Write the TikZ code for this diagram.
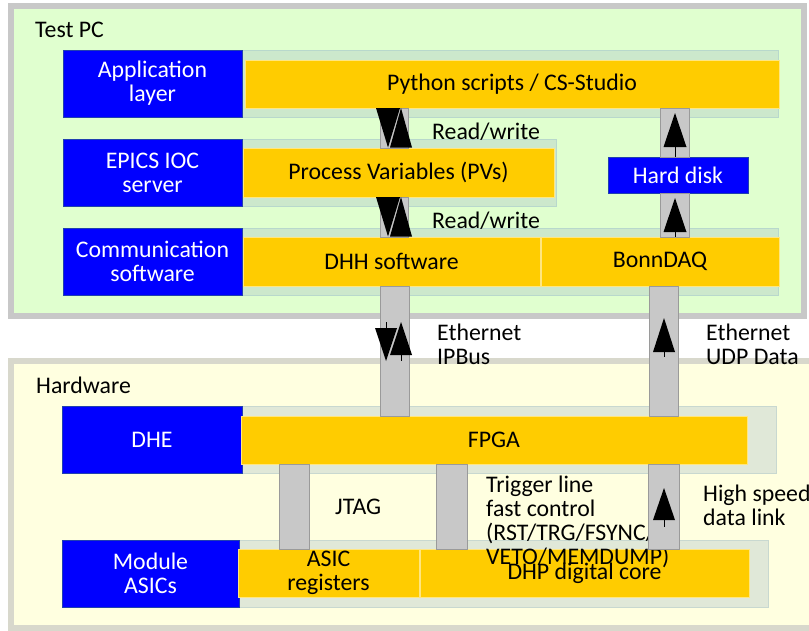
\documentclass[tikz,border=0pt]{standalone}
\usepackage{fontspec}
\setmainfont{Carlito}
\definecolor{pcfill}{HTML}{E0FFCF}
\definecolor{pcedge}{HTML}{C8C8C8}
\definecolor{hwfill}{HTML}{FFFFE0}
\definecolor{hwedge}{HTML}{D8D8CC}
\definecolor{pcrow}{HTML}{CCE8CC}
\definecolor{pcrowedge}{HTML}{B8D8CC}
\definecolor{hwrow}{HTML}{E0E8D8}
\definecolor{hwrowedge}{HTML}{C8D8D0}
\definecolor{layerblue}{HTML}{0000FF}
\definecolor{layeredge}{HTML}{2040B0}
\definecolor{swyellow}{HTML}{FFCC00}
\definecolor{swedge}{HTML}{FFE680}
\definecolor{pipefill}{HTML}{C8C8C8}
\definecolor{pipeedge}{HTML}{9A9A9A}
\tikzset{
  x=1pt, y=-1pt,
  txt/.style={font=\fontsize{23.8}{24}\selectfont, align=center, inner sep=0pt},
  lbl/.style={txt, align=left, anchor=base west},
  rowbg/.style={fill=pcrow, draw=pcrowedge, line width=0.8pt},
  hwrowbg/.style={fill=hwrow, draw=hwrowedge, line width=0.8pt},
  layer/.style={fill=layerblue, draw=layeredge, line width=0.6pt, text=white},
  sw/.style={fill=swyellow, draw=swedge, line width=0.8pt},
  pipe/.style={fill=pipefill, draw=pipeedge, line width=0.8pt},
  stem/.style={line width=0.8pt},
}
% vertical arrow inside a pipe: x, half width of head, tip y, head base y, stem end y
\newcommand\pipearrow[5]{%
  \draw[stem] (#1,#4) -- (#1,#5);
  \fill (#1-#2,#4) -- (#1+#2,#4) -- (#1,#3) -- cycle;}
\begin{document}
\begin{tikzpicture}
\clip (0,0) rectangle (809,630);
\fill[white] (0,0) rectangle (809,630);

% ---- panels
\draw[pcedge, fill=pcfill, line width=6pt] (11,6) rectangle (804,316);
\draw[hwedge, fill=hwfill, line width=6pt] (11,361) rectangle (830,628);
\node[lbl] (testpc) at (35,37.5) {Test PC};
\node[lbl] (hwlabel) at (36,393) {Hardware};

% ---- row backgrounds
\path[rowbg] (63,50) rectangle (778,117);
\path[rowbg] (63,139) rectangle (556,206);
\path[rowbg] (63,228) rectangle (778,295);
\path[hwrowbg] (62,406) rectangle (776,473);
\path[hwrowbg] (62,540) rectangle (768,607);

% ---- layer names
\path[layer] (63,50) rectangle (242,117) node[pos=0.5, txt, text=white] (app) {Application\\layer};
\path[layer] (63,139) rectangle (242,206) node[pos=0.5, txt, text=white] (epics) {EPICS IOC\\server};
\path[layer] (63,228) rectangle (242,295) node[pos=0.5, txt, text=white] (comm) {Communication\\software};
\path[layer] (62,406) rectangle (242,473) node[pos=0.5, txt, text=white] (dhe) {DHE};
\path[layer] (62,540) rectangle (239,607) node[pos=0.5, txt, text=white] (asics) {Module\\ASICs};

% ---- software / firmware blocks
\path[sw] (245,60) rectangle (779,108) node[pos=0.5, txt] (python) {Python scripts / CS-Studio};
\path[sw] (243,148) rectangle (554,197) node[pos=0.5, txt] (pvs) {Process Variables (PVs)};
\path[sw] (243,237) rectangle (540,286) node[pos=0.5, txt] (dhh) {DHH software};
\path[sw] (541,237) rectangle (779,286) node[pos=0.5, txt] (bonn) {BonnDAQ};
\path[layer] (608,157) rectangle (748,193) node[pos=0.5, txt, text=white] (disk) {Hard disk};
\path[sw] (241,416) rectangle (747,464) node[pos=0.5, txt] (fpga) {FPGA};
\path[sw] (238,549) rectangle (419,597) node[pos=0.5, txt] (asicreg) {ASIC\\registers};
\path[sw] (420,549) rectangle (749,597) node[pos=0.5, txt] (dhp) {DHP digital core};

% ---- link labels (anchored at the baseline of their last line)
\node[lbl] (rw1) at (432,139) {Read/write};
\node[lbl] (rw2) at (432,228) {Read/write};
\node[lbl] (ipbus) at (437,364) {Ethernet\\IPBus};
\node[lbl] (udp) at (706,364) {Ethernet\\UDP Data};
\node[lbl] (jtag) at (335,514) {JTAG};
\node[lbl] (trig) at (486,564)
  {Trigger line\\fast control\\(RST/TRG/FSYNC/\\VETO/MEMDUMP)};
\node[lbl] (hslink) at (703,525) {High speed\\data link};

% ---- link pipes
\path[pipe] (380,108) rectangle (408,148) coordinate (p1);
\path[pipe] (380,197) rectangle (408,237) coordinate (p2);
\path[pipe] (380,286) rectangle (409,416) coordinate (p3);
\path[pipe] (660,108) rectangle (689,157) coordinate (p4);
\path[pipe] (660,193) rectangle (689,237) coordinate (p5);
\path[pipe] (649,286) rectangle (678,416) coordinate (p6);
\path[pipe] (279,464) rectangle (309,549) coordinate (p7);
\path[pipe] (436,464) rectangle (467,549) coordinate (p8);
\path[pipe] (648,464) rectangle (679,549) coordinate (p9);

% ---- read/write between application, PVs and DHH software
\fill (376,108) -- (400,108) -- (388,147.5) -- cycle;
\fill (390,147.5) -- (412,147.5) -- (401,108) -- cycle;
\fill (376,197) -- (400,197) -- (388,236.5) -- cycle;
\fill (390,236.5) -- (412,236.5) -- (401,197) -- cycle;

% ---- IPBus, both directions
\pipearrow{386}{11}{361}{328}{322}
\pipearrow{401}{11}{322}{355}{361}

% ---- data path to hard disk and application
\pipearrow{675}{11.5}{113}{147}{157}
\pipearrow{675}{11.5}{198}{232}{237}

% ---- UDP data and high speed link
\pipearrow{664}{11}{318}{352}{357}
\pipearrow{664}{11}{488}{520}{527}
\end{tikzpicture}
\end{document}
